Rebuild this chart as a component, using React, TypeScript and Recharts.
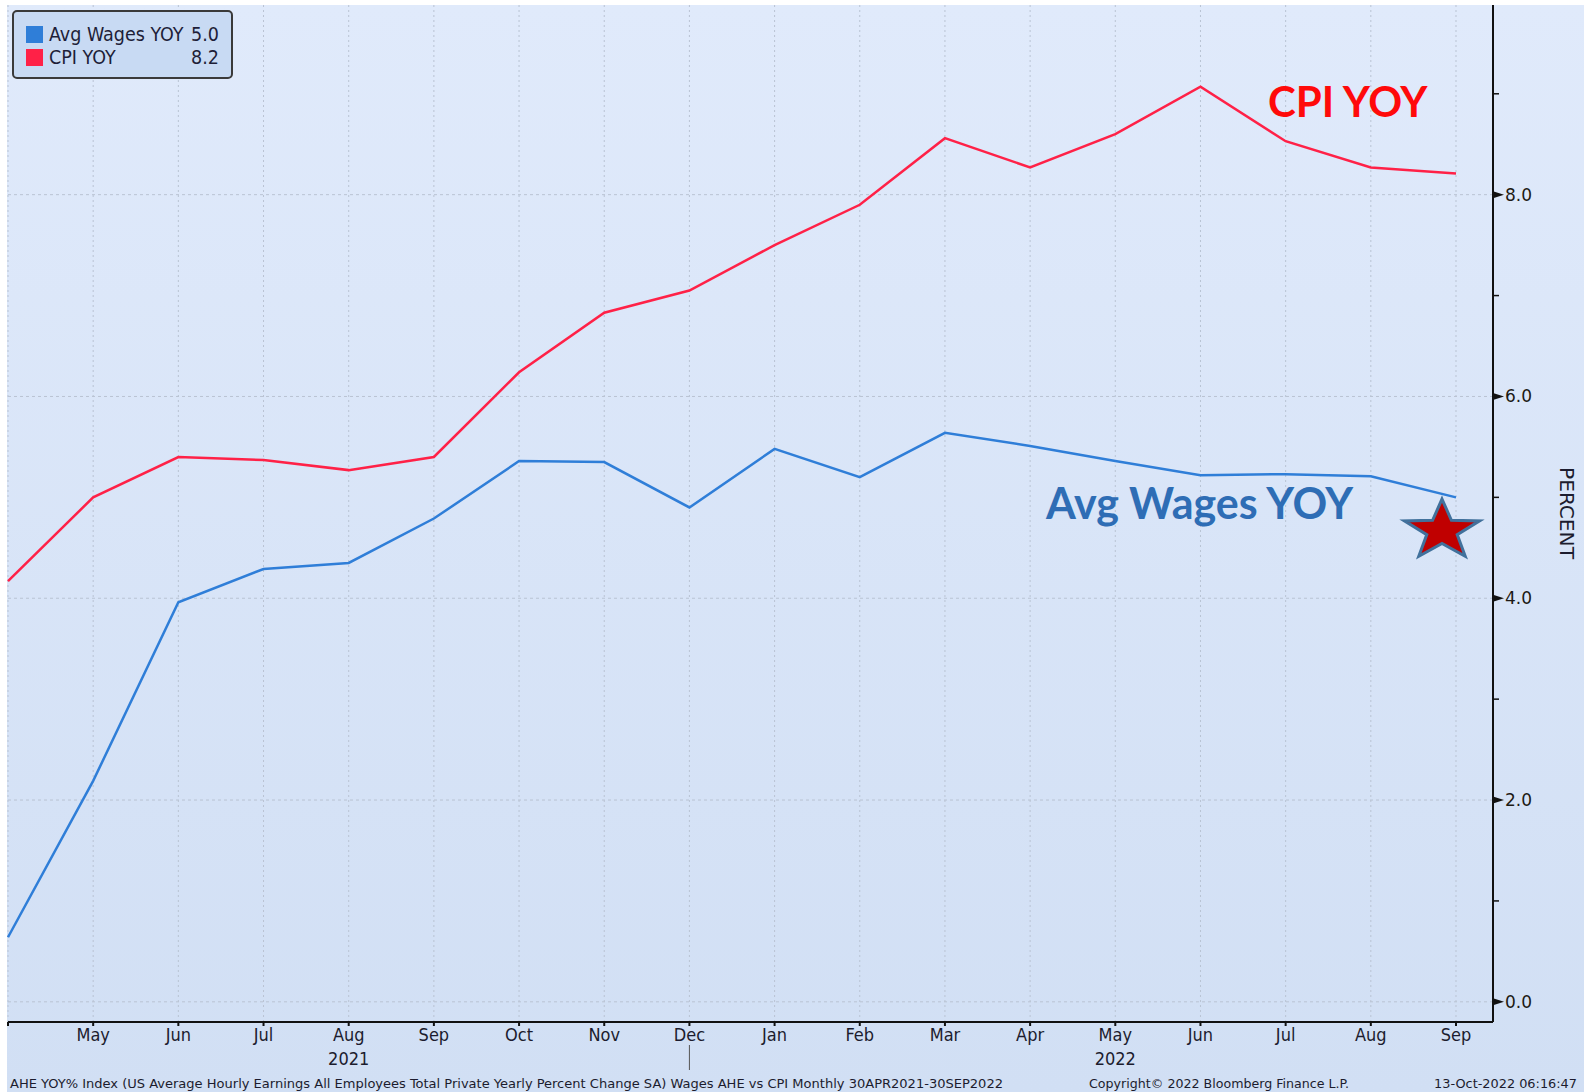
import React from 'react';
import {
  CartesianGrid,
  Line,
  LineChart,
  ReferenceDot,
  ReferenceLine,
  XAxis,
  YAxis
} from 'recharts';

const categories = [
  'Apr 2021', 'May 2021', 'Jun 2021', 'Jul 2021', 'Aug 2021', 'Sep 2021',
  'Oct 2021', 'Nov 2021', 'Dec 2021', 'Jan 2022', 'Feb 2022', 'Mar 2022',
  'Apr 2022', 'May 2022', 'Jun 2022', 'Jul 2022', 'Aug 2022', 'Sep 2022'
];
const monthLabels = [
  '', 'May', 'Jun', 'Jul', 'Aug', 'Sep', 'Oct', 'Nov', 'Dec',
  'Jan', 'Feb', 'Mar', 'Apr', 'May', 'Jun', 'Jul', 'Aug', 'Sep'
];
const yearLabels: Record<string, string> = { 'Aug 2021': '2021', 'May 2022': '2022' };
const yearBreak = 'Dec 2021';

const cpiYoy = [4.17, 5.0, 5.4, 5.37, 5.27, 5.4, 6.24, 6.83, 7.05, 7.5, 7.9, 8.56, 8.27, 8.6, 9.07, 8.53, 8.27, 8.21];
const wagesYoy = [0.64, 2.19, 3.96, 4.29, 4.35, 4.79, 5.36, 5.35, 4.9, 5.48, 5.2, 5.64, 5.51, 5.36, 5.22, 5.23, 5.21, 5.0];

const yTicks = [0, 1, 2, 3, 4, 5, 6, 7, 8, 9];
const yMajor = [0, 2, 4, 6, 8];

const WAGE_COLOR = '#2f7ed8';
const CPI_COLOR = '#ff2147';
const AXIS_FONT = '"DejaVu Sans Condensed", "Liberation Sans Narrow", "DejaVu Sans", sans-serif';

const data = categories.map((c, i) => ({
  date: c,
  label: monthLabels[i],
  wages: wagesYoy[i],
  cpi: cpiYoy[i]
}));

const MonthTick = (props: any) => {
  const { x, y, payload, index } = props;
  const year = yearLabels[payload.value];
  return (
    <g>
      {monthLabels[index] ? (
        <text x={x} y={y + 15} textAnchor="middle" fontSize={18} fill="#1c1c2e" fontFamily={AXIS_FONT}>
          {monthLabels[index]}
        </text>
      ) : null}
      {year ? (
        <text x={x} y={y + 39} textAnchor="middle" fontSize={18} fill="#1c1c2e" fontFamily={AXIS_FONT}>
          {year}
        </text>
      ) : null}
      {payload.value === yearBreak ? (
        <line x1={x} x2={x} y1={y + 19} y2={y + 44} stroke="#555" strokeWidth={1} />
      ) : null}
    </g>
  );
};

const PercentTick = (props: any) => {
  const { x, y, payload } = props;
  if (yMajor.indexOf(payload.value) < 0) {
    return <line x1={x} x2={x + 6} y1={y} y2={y} stroke="#111" strokeWidth={1.5} />;
  }
  return (
    <g>
      <path d={`M${x},${y - 3.5} L${x + 11},${y} L${x},${y + 3.5} Z`} fill="#111" />
      <text x={x + 12} y={y + 6} fontSize={17} fill="#1d1a14" fontFamily={'"DejaVu Sans", sans-serif'}>
        {payload.value.toFixed(1)}
      </text>
    </g>
  );
};

// squashed five-point star, as in the original annotation
const Star = (props: any) => {
  const { cx, cy } = props;
  const R = 39.5;
  const r = 16;
  const sy = 0.8;
  const px = cx - 14;
  const pts: string[] = [];
  for (let i = 0; i < 10; i++) {
    const a = -Math.PI / 2 + (i * Math.PI) / 5;
    const rad = i % 2 === 0 ? R : r;
    pts.push(`${px + rad * Math.cos(a)},${cy + rad * Math.sin(a) * sy}`);
  }
  return <polygon points={pts.join(' ')} fill="#c00000" stroke="#41719c" strokeWidth={3} strokeLinejoin="miter" />;
};

const legendItems = [
  { name: 'Avg Wages YOY', color: WAGE_COLOR, v: wagesYoy[wagesYoy.length - 1] },
  { name: 'CPI YOY', color: CPI_COLOR, v: cpiYoy[cpiYoy.length - 1] }
];

const LegendBox = () => (
  <div
    style={{
      position: 'absolute',
      left: 12,
      top: 10,
      width: 221,
      height: 69,
      boxSizing: 'border-box',
      border: '2px solid #3a3a3a',
      borderRadius: 5,
      background: '#c8daf3',
      padding: '11px 12px 0 12px',
      fontFamily: AXIS_FONT,
      fontSize: 19.5,
      color: '#1e1e38',
      lineHeight: '23px'
    }}
  >
    {legendItems.map((it) => (
      <div key={it.name} style={{ display: 'flex', alignItems: 'center' }}>
        <span style={{ width: 17, height: 17, background: it.color, marginRight: 6, display: 'inline-block' }} />
        <span style={{ flex: 1 }}>{it.name}</span>
        <span>{it.v.toFixed(1)}</span>
      </div>
    ))}
  </div>
);

const App: React.FC = () => {
  return (
    <div style={{ position: 'absolute', left: 0, top: 0, width: 1584, height: 1092, background: '#fff', overflow: 'hidden' }}>
      <div
        style={{
          position: 'absolute',
          left: 7,
          top: 5,
          right: 0,
          bottom: 0,
          background: 'linear-gradient(#e0eafb, #d1dff4)'
        }}
      />
      <div style={{ position: 'absolute', left: 0, top: 0 }}>
        <LineChart width={1584} height={1092} data={data} margin={{ top: 5, left: 8, right: 8, bottom: 0 }}>
          <CartesianGrid horizontal={false} vertical={true} stroke="#b9c3d3" strokeDasharray="2 3" />
          {yMajor.map((v) => (
            <ReferenceLine key={v} y={v} stroke="#b9c3d3" strokeDasharray="3 3" />
          ))}
          <XAxis
            dataKey="date"
            interval={0}
            height={70}
            padding={{ left: 0, right: 37 }}
            axisLine={{ stroke: '#111', strokeWidth: 2 }}
            tickLine={{ stroke: '#111', strokeWidth: 2 }}
            tickSize={4}
            tickMargin={0}
            tick={<MonthTick />}
          />
          <YAxis
            orientation="right"
            type="number"
            width={83}
            domain={[-0.2, 9.88]}
            ticks={yTicks}
            interval={0}
            axisLine={{ stroke: '#111', strokeWidth: 2 }}
            tickLine={false}
            tickSize={0}
            tickMargin={0}
            tick={<PercentTick />}
          />
          <Line type="linear" dataKey="cpi" name="CPI YOY" stroke={CPI_COLOR} strokeWidth={2.5} dot={false} isAnimationActive={false} />
          <Line type="linear" dataKey="wages" name="Avg Wages YOY" stroke={WAGE_COLOR} strokeWidth={2.5} dot={false} isAnimationActive={false} />
          <ReferenceDot x="Sep 2022" y={4.67} r={40} shape={<Star />} />
        </LineChart>
      </div>
      <LegendBox />
      <div
        style={{
          position: 'absolute',
          left: 1268,
          top: 74,
          fontFamily: 'Lato, sans-serif',
          fontWeight: 700,
          fontSize: 42,
          color: '#ff0a0a',
          lineHeight: '54px',
          whiteSpace: 'nowrap'
        }}
      >
        CPI YOY
      </div>
      <div
        style={{
          position: 'absolute',
          left: 1046,
          top: 476,
          fontFamily: 'Lato, sans-serif',
          fontWeight: 700,
          fontSize: 43,
          color: '#2e6db5',
          lineHeight: '54px',
          whiteSpace: 'nowrap'
        }}
      >
        Avg Wages YOY
      </div>
      <svg style={{ position: 'absolute', left: 0, top: 0, pointerEvents: 'none' }} width={1584} height={1092}>
        <text
          x={1567}
          y={513}
          transform="rotate(90 1567 513)"
          textAnchor="middle"
          dominantBaseline="central"
          fontFamily={AXIS_FONT}
          fontSize={20}
          fill="#1c1c2e"
          textLength={92}
          lengthAdjust="spacingAndGlyphs"
        >
          PERCENT
        </text>
        <text x={10} y={1088} fontFamily={AXIS_FONT} fontSize={13} fill="#1c1c2e" textLength={993} lengthAdjust="spacingAndGlyphs">
          AHE YOY% Index (US Average Hourly Earnings All Employees Total Private Yearly Percent Change SA) Wages AHE vs CPI  Monthly 30APR2021-30SEP2022
        </text>
        <text x={1089} y={1088} fontFamily={AXIS_FONT} fontSize={13} fill="#1c1c2e" textLength={260} lengthAdjust="spacingAndGlyphs">
          Copyright© 2022 Bloomberg Finance L.P.
        </text>
        <text x={1434} y={1088} fontFamily={AXIS_FONT} fontSize={13} fill="#1c1c2e" textLength={143} lengthAdjust="spacingAndGlyphs">
          13-Oct-2022 06:16:47
        </text>
      </svg>
    </div>
  );
};

export default App;
